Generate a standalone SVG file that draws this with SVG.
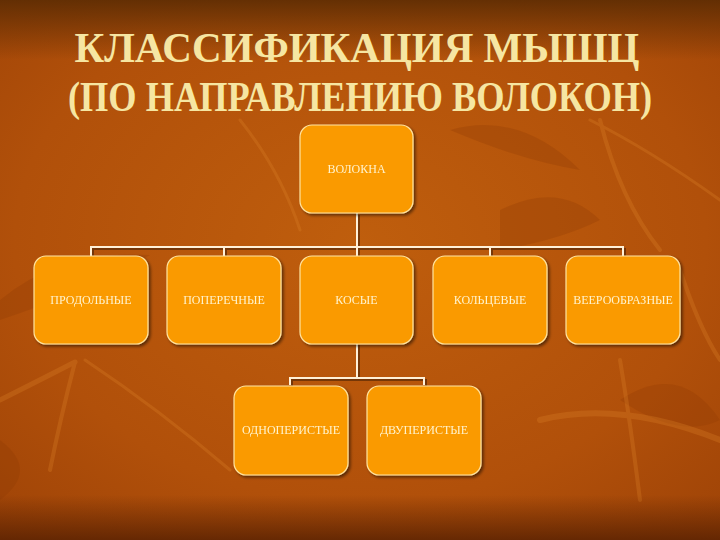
<svg xmlns="http://www.w3.org/2000/svg" width="720" height="540" viewBox="0 0 720 540">
<defs>
<radialGradient id="bg" cx="0.5" cy="0.45" r="0.8">
<stop offset="0" stop-color="#BF5E0D"/>
<stop offset="0.6" stop-color="#B1500A"/>
<stop offset="1" stop-color="#9A4006"/>
</radialGradient>
<linearGradient id="top" x1="0" y1="0" x2="0" y2="1">
<stop offset="0" stop-color="#5C2C03" stop-opacity="0.9"/>
<stop offset="1" stop-color="#5C2C03" stop-opacity="0"/>
</linearGradient>
<linearGradient id="bot" x1="0" y1="0" x2="0" y2="1">
<stop offset="0" stop-color="#5A2202" stop-opacity="0"/>
<stop offset="1" stop-color="#5A2202" stop-opacity="0.85"/>
</linearGradient>
<filter id="sh" x="-10%" y="-10%" width="130%" height="130%">
<feGaussianBlur in="SourceAlpha" stdDeviation="1.5"/>
<feOffset dx="2" dy="2" result="b"/>
<feComponentTransfer><feFuncA type="linear" slope="0.5"/></feComponentTransfer>
<feMerge><feMergeNode/><feMergeNode in="SourceGraphic"/></feMerge>
</filter>
</defs>
<style>
.title{font-family:"Liberation Serif","Times New Roman",serif;font-size:35px;font-weight:bold;fill:#F6E6A2;text-anchor:middle}
.box{fill:#FA9A04;stroke:#FFE4A0;stroke-width:1.2}
.lbl{font-family:"Liberation Serif","Times New Roman",serif;font-size:12px;fill:#FFF3CC;text-anchor:middle}
.ln{fill:none;stroke:#FFF1D8;stroke-width:2}
.lns{fill:none;stroke:#4A2205;stroke-width:2;opacity:0.6}
.lt{fill:none;stroke:#E0862A;stroke-linecap:round}
.dk{fill:#8E3A04}
</style>
<rect width="720" height="540" fill="url(#bg)"/>
<g opacity="0.28">
<path class="dk" d="M0 300 Q60 250 150 255 Q90 290 0 320 Z"/>
<path class="dk" d="M450 130 Q520 110 580 170 Q520 160 450 130 Z"/>
<path class="dk" d="M500 210 Q560 180 600 220 Q560 240 500 250 Z"/>
<path class="dk" d="M0 440 Q40 470 0 500 Z"/>
<path class="dk" d="M620 400 Q680 360 720 420 Q680 440 620 400 Z"/>
</g>
<g opacity="0.28">
<path class="lt" stroke-width="5" d="M0 400 Q40 380 75 362"/>
<path class="lt" stroke-width="4" d="M75 362 Q60 420 50 470"/>
<path class="lt" stroke-width="3" d="M85 360 Q160 410 230 470"/>
<path class="lt" stroke-width="6" d="M540 420 Q620 400 720 440"/>
<path class="lt" stroke-width="4" d="M620 360 Q630 420 640 500"/>
<path class="lt" stroke-width="4" d="M600 120 Q620 200 660 250"/>
<path class="lt" stroke-width="3" d="M590 120 Q650 150 720 200"/>
<path class="lt" stroke-width="3" d="M240 120 Q280 170 300 230"/>
<path class="lt" stroke-width="4" d="M680 270 Q700 330 720 360"/>
</g>
<rect width="720" height="60" fill="url(#top)"/>
<rect y="495" width="720" height="45" fill="url(#bot)"/>
<text class="title" transform="translate(357 62) scale(1 1.2)" textLength="565" lengthAdjust="spacingAndGlyphs">КЛАССИФИКАЦИЯ МЫШЦ</text>
<text class="title" transform="translate(360 111) scale(1 1.2)" textLength="584" lengthAdjust="spacingAndGlyphs">(ПО НАПРАВЛЕНИЮ ВОЛОКОН)</text>
<g id="connectors">
<path class="lns" d="M359 215 V249 M93 258 V249 H625 V258 M226 249 V258 M359 249 V258 M492 249 V258 M359 345 V380 M292 387 V380 H426 V387"/>
<path class="ln" d="M357 213 V247 M91 256 V247 H623 V256 M224 247 V256 M357 247 V256 M490 247 V256 M357 343 V378 M290 385 V378 H424 V385"/>
</g>
<g id="n-volokna" filter="url(#sh)"><rect class="box" x="300" y="125" width="113" height="88" rx="12"/><text class="lbl" x="356.5" y="173">ВОЛОКНА</text></g>
<g id="n-prodolnye" filter="url(#sh)"><rect class="box" x="34" y="256" width="114" height="88" rx="12"/><text class="lbl" x="91" y="304">ПРОДОЛЬНЫЕ</text></g>
<g id="n-poperechnye" filter="url(#sh)"><rect class="box" x="167" y="256" width="114" height="88" rx="12"/><text class="lbl" x="224" y="304">ПОПЕРЕЧНЫЕ</text></g>
<g id="n-kosye" filter="url(#sh)"><rect class="box" x="300" y="256" width="113" height="88" rx="12"/><text class="lbl" x="356.5" y="304">КОСЫЕ</text></g>
<g id="n-koltsevye" filter="url(#sh)"><rect class="box" x="433" y="256" width="114" height="88" rx="12"/><text class="lbl" x="490" y="304">КОЛЬЦЕВЫЕ</text></g>
<g id="n-veeroobraznye" filter="url(#sh)"><rect class="box" x="566" y="256" width="114" height="88" rx="12"/><text class="lbl" x="623" y="304">ВЕЕРООБРАЗНЫЕ</text></g>
<g id="n-odnoperistye" filter="url(#sh)"><rect class="box" x="234" y="386" width="114" height="89" rx="12"/><text class="lbl" x="291" y="434">ОДНОПЕРИСТЫЕ</text></g>
<g id="n-dvuperistye" filter="url(#sh)"><rect class="box" x="367" y="386" width="114" height="89" rx="12"/><text class="lbl" x="424" y="434">ДВУПЕРИСТЫЕ</text></g>
</svg>
